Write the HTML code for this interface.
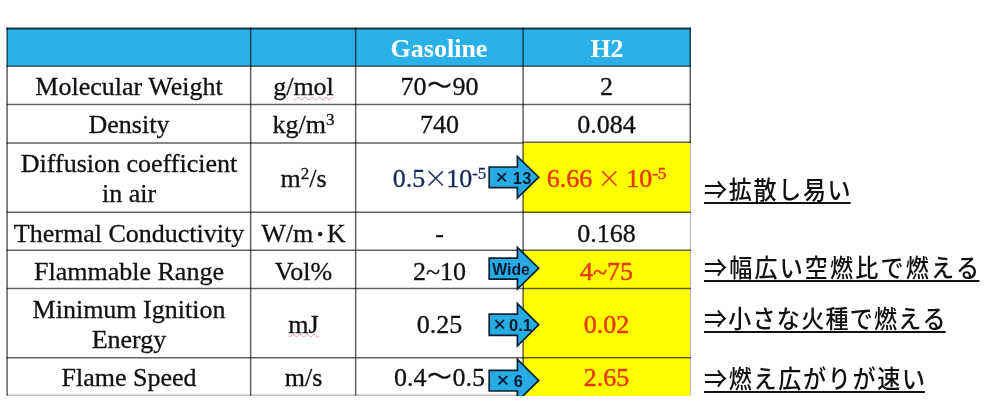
<!DOCTYPE html>
<html lang="ja">
<head>
<meta charset="utf-8">
<title>Gasoline vs H2 properties</title>
<style>
html,body{margin:0;padding:0;background:#fff;}
body{width:1000px;height:405px;position:relative;overflow:hidden;
  font-family:"Liberation Serif","Noto Sans CJK JP",serif;color:#111;}
.bg{position:absolute;}
.c{position:absolute;display:flex;align-items:center;justify-content:center;
  text-align:center;font-size:26px;line-height:30px;white-space:nowrap;transform:translateY(1.75px);-webkit-text-stroke:0.3px currentColor;}
.c sup{font-size:17px;line-height:0;vertical-align:baseline;position:relative;top:-8px;}
.wx{font-family:"Noto Serif CJK SC","Liberation Serif",serif;font-size:24px;line-height:0;margin:0 -1.5px;-webkit-text-stroke:0.45px currentColor;}
.wv{font-family:"IPAGothic","Liberation Serif",serif;font-size:27px;line-height:0;margin:0 -0.5px;}
.h{color:#fff;font-weight:bold;transform:translate(0,2.25px);-webkit-text-stroke:0;}
.red{color:#e63a0c;-webkit-text-stroke:0.5px currentColor;}
.navy{color:#172a5c;}
.sq{text-decoration:underline wavy rgba(226,80,100,0.55) 0.6px;text-underline-offset:0.6px;text-decoration-skip-ink:none;}
.jp{position:absolute;left:703.5px;font-family:"Liberation Sans","Noto Sans CJK JP",sans-serif;
  font-size:24.5px;font-weight:500;line-height:30px;height:26.1px;color:#111;white-space:nowrap;
  border-bottom:2px solid #111;transform:scaleX(0.94);transform-origin:0 0;}
.at .b{font-weight:bold;stroke:none;}
.at{font-family:"Liberation Sans","Noto Sans CJK JP",sans-serif;font-size:16.5px;fill:#0a1a30;stroke:#0a1a30;stroke-width:0.35px;}
</style>
</head>
<body>
<!-- fills -->
<div class="bg" style="left:7px;top:28px;width:684px;height:38px;background:#2ab1e8;"></div>
<div class="bg" style="left:523px;top:143px;width:166.9px;height:69.5px;background:#ffff00;"></div>
<div class="bg" style="left:523px;top:250.5px;width:166.9px;height:145px;background:#ffff00;"></div>

<!-- grid lines -->
<svg class="bg" style="left:0;top:0;" width="1000" height="405" viewBox="0 0 1000 405">
  <g stroke="#000" stroke-opacity="0.62" stroke-width="1.5" fill="none">
    <path d="M6.4 66.2H691M6.4 104.6H691M6.4 143H523.1M523.1 142.3H691M6.4 212.2H691M6.4 250.3H691M6.4 288.4H691M6.4 357.7H691"/>
    <path d="M7.1 27.5V395.5M250.65 27.5V395.5M355.65 27.5V395.5M523.1 27.5V395.5M690.2 27.5V143"/>
  </g>
  <path d="M6.2 28.5H691" stroke="#000" stroke-opacity="0.7" stroke-width="2" fill="none"/>
  <path d="M690.5 143V395.5" stroke="#000" stroke-opacity="0.28" stroke-width="1.1" fill="none"/>
  <path d="M6.4 395.1H523" stroke="#000" stroke-opacity="0.45" stroke-width="0.9" fill="none"/>
</svg>

<!-- header -->
<div class="c h" style="left:355.5px;top:28px;width:167px;height:38px;">Gasoline</div>
<div class="c h" style="left:523.5px;top:28px;width:167px;height:38px;">H2</div>

<!-- row 1 -->
<div class="c" style="left:7px;top:66.25px;width:244px;height:38px;">Molecular Weight</div>
<div class="c" style="left:251px;top:66.25px;width:105px;height:38px;"><span>g/<span class="sq">mol</span></span></div>
<div class="c" style="left:356px;top:66.25px;width:167px;height:38px;"><span>70<span class="wv">～</span>90</span></div>
<div class="c" style="left:523px;top:66.25px;width:167px;height:38px;">2</div>
<!-- row 2 -->
<div class="c" style="left:7px;top:103.4px;width:244px;height:39px;">Density</div>
<div class="c" style="left:251px;top:103.4px;width:105px;height:39px;"><span>kg/m<sup>3</sup></span></div>
<div class="c" style="left:356px;top:103.4px;width:167px;height:39px;">740</div>
<div class="c" style="left:523px;top:103.4px;width:167px;height:39px;">0.084</div>
<!-- row 3 -->
<div class="c" style="left:7px;top:142.3px;width:244px;height:69px;">Diffusion coefficient<br>in air</div>
<div class="c" style="left:251px;top:142.3px;width:105px;height:69px;"><span>m<sup>2</sup>/s</span></div>
<div class="c navy" style="left:356px;top:142.3px;width:167px;height:69px;"><span>0.5<span class="wx">×</span>10<sup>-5</sup></span></div>
<div class="c red" style="left:523px;top:142.3px;width:167px;height:69px;"><span>6.66 <span class="wx">×</span> 10<sup>-5</sup></span></div>
<!-- row 4 -->
<div class="c" style="left:7px;top:212px;width:244px;height:39px;">Thermal Conductivity</div>
<div class="c" style="left:251px;top:212px;width:105px;height:39px;"><span>W/m<span style="padding:0 2.6px;font-weight:bold">·</span>K</span></div>
<div class="c" style="left:356px;top:212px;width:167px;height:39px;">-</div>
<div class="c" style="left:523px;top:212px;width:167px;height:39px;">0.168</div>
<!-- row 5 -->
<div class="c" style="left:7px;top:251px;width:244px;height:37px;">Flammable Range</div>
<div class="c" style="left:251px;top:251px;width:105px;height:37px;">Vol%</div>
<div class="c" style="left:356px;top:251px;width:167px;height:37px;">2~10</div>
<div class="c red" style="left:523px;top:251px;width:167px;height:37px;">4~75</div>
<!-- row 6 -->
<div class="c" style="left:7px;top:288px;width:244px;height:69px;">Minimum Ignition<br>Energy</div>
<div class="c" style="left:251px;top:288px;width:105px;height:69px;"><span class="sq">mJ</span></div>
<div class="c" style="left:356px;top:288px;width:167px;height:69px;">0.25</div>
<div class="c red" style="left:523px;top:288px;width:167px;height:69px;">0.02</div>
<!-- row 7 -->
<div class="c" style="left:7px;top:357px;width:244px;height:38px;">Flame Speed</div>
<div class="c" style="left:251px;top:357px;width:105px;height:38px;">m/s</div>
<div class="c" style="left:356px;top:357px;width:167px;height:38px;"><span>0.4<span class="wv">～</span>0.5</span></div>
<div class="c red" style="left:523px;top:357px;width:167px;height:38px;">2.65</div>

<!-- arrows -->
<svg class="bg" style="left:0;top:0;" width="1000" height="396" viewBox="0 0 1000 396">
  <g fill="#27abe3" stroke="#0c1f33" stroke-width="1.7" stroke-linejoin="miter">
    <path d="M489.2 167 H517.4 V156.4 L538.7 177.2 L517.4 198 V187.6 H489.2 Z"/>
    <path d="M489.2 258.2 H517.4 V247.4 L538.7 268.2 L517.4 289 V279.1 H489.2 Z"/>
    <path d="M489.2 314.1 H517.4 V303.6 L538.7 324.7 L517.4 346 V335.3 H489.2 Z"/>
    <path d="M489.2 370.3 H517.4 V359.4 L538.7 380.4 L517.4 401.4 V391 H489.2 Z"/>
  </g>
  <text class="at" y="183.6"><tspan x="495.6" style="font-size:21px" dy="0.6">×</tspan><tspan class="b" x="512.8" dy="-0.6">1</tspan><tspan class="b" x="522.2">3</tspan></text>
  <text class="at" x="492.3" y="274.5" style="font-weight:bold;stroke:none" textLength="37.5" lengthAdjust="spacingAndGlyphs">Wide</text>
  <text class="at" y="330.6"><tspan x="493.5" style="font-size:21px" dy="0.6">×</tspan><tspan class="b" x="509" dy="-0.6">0.1</tspan></text>
  <text class="at" y="386.6"><tspan x="496.7" style="font-size:21px" dy="0.6">×</tspan><tspan class="b" x="513.8" dy="-0.6">6</tspan></text>
</svg>

<!-- notes -->
<div class="jp" style="top:176px;letter-spacing:1.8px;">⇒拡散し易<span style="letter-spacing:0">い</span></div>
<div class="jp" style="top:253.5px;letter-spacing:2.32px;">⇒幅広い空燃比で燃え<span style="letter-spacing:0">る</span></div>
<div class="jp" style="top:305.3px;letter-spacing:1.34px;">⇒小さな火種で燃え<span style="letter-spacing:0">る</span></div>
<div class="jp" style="top:364.5px;letter-spacing:1.83px;">⇒燃え広がりが速<span style="letter-spacing:0">い</span></div>
</body>
</html>
